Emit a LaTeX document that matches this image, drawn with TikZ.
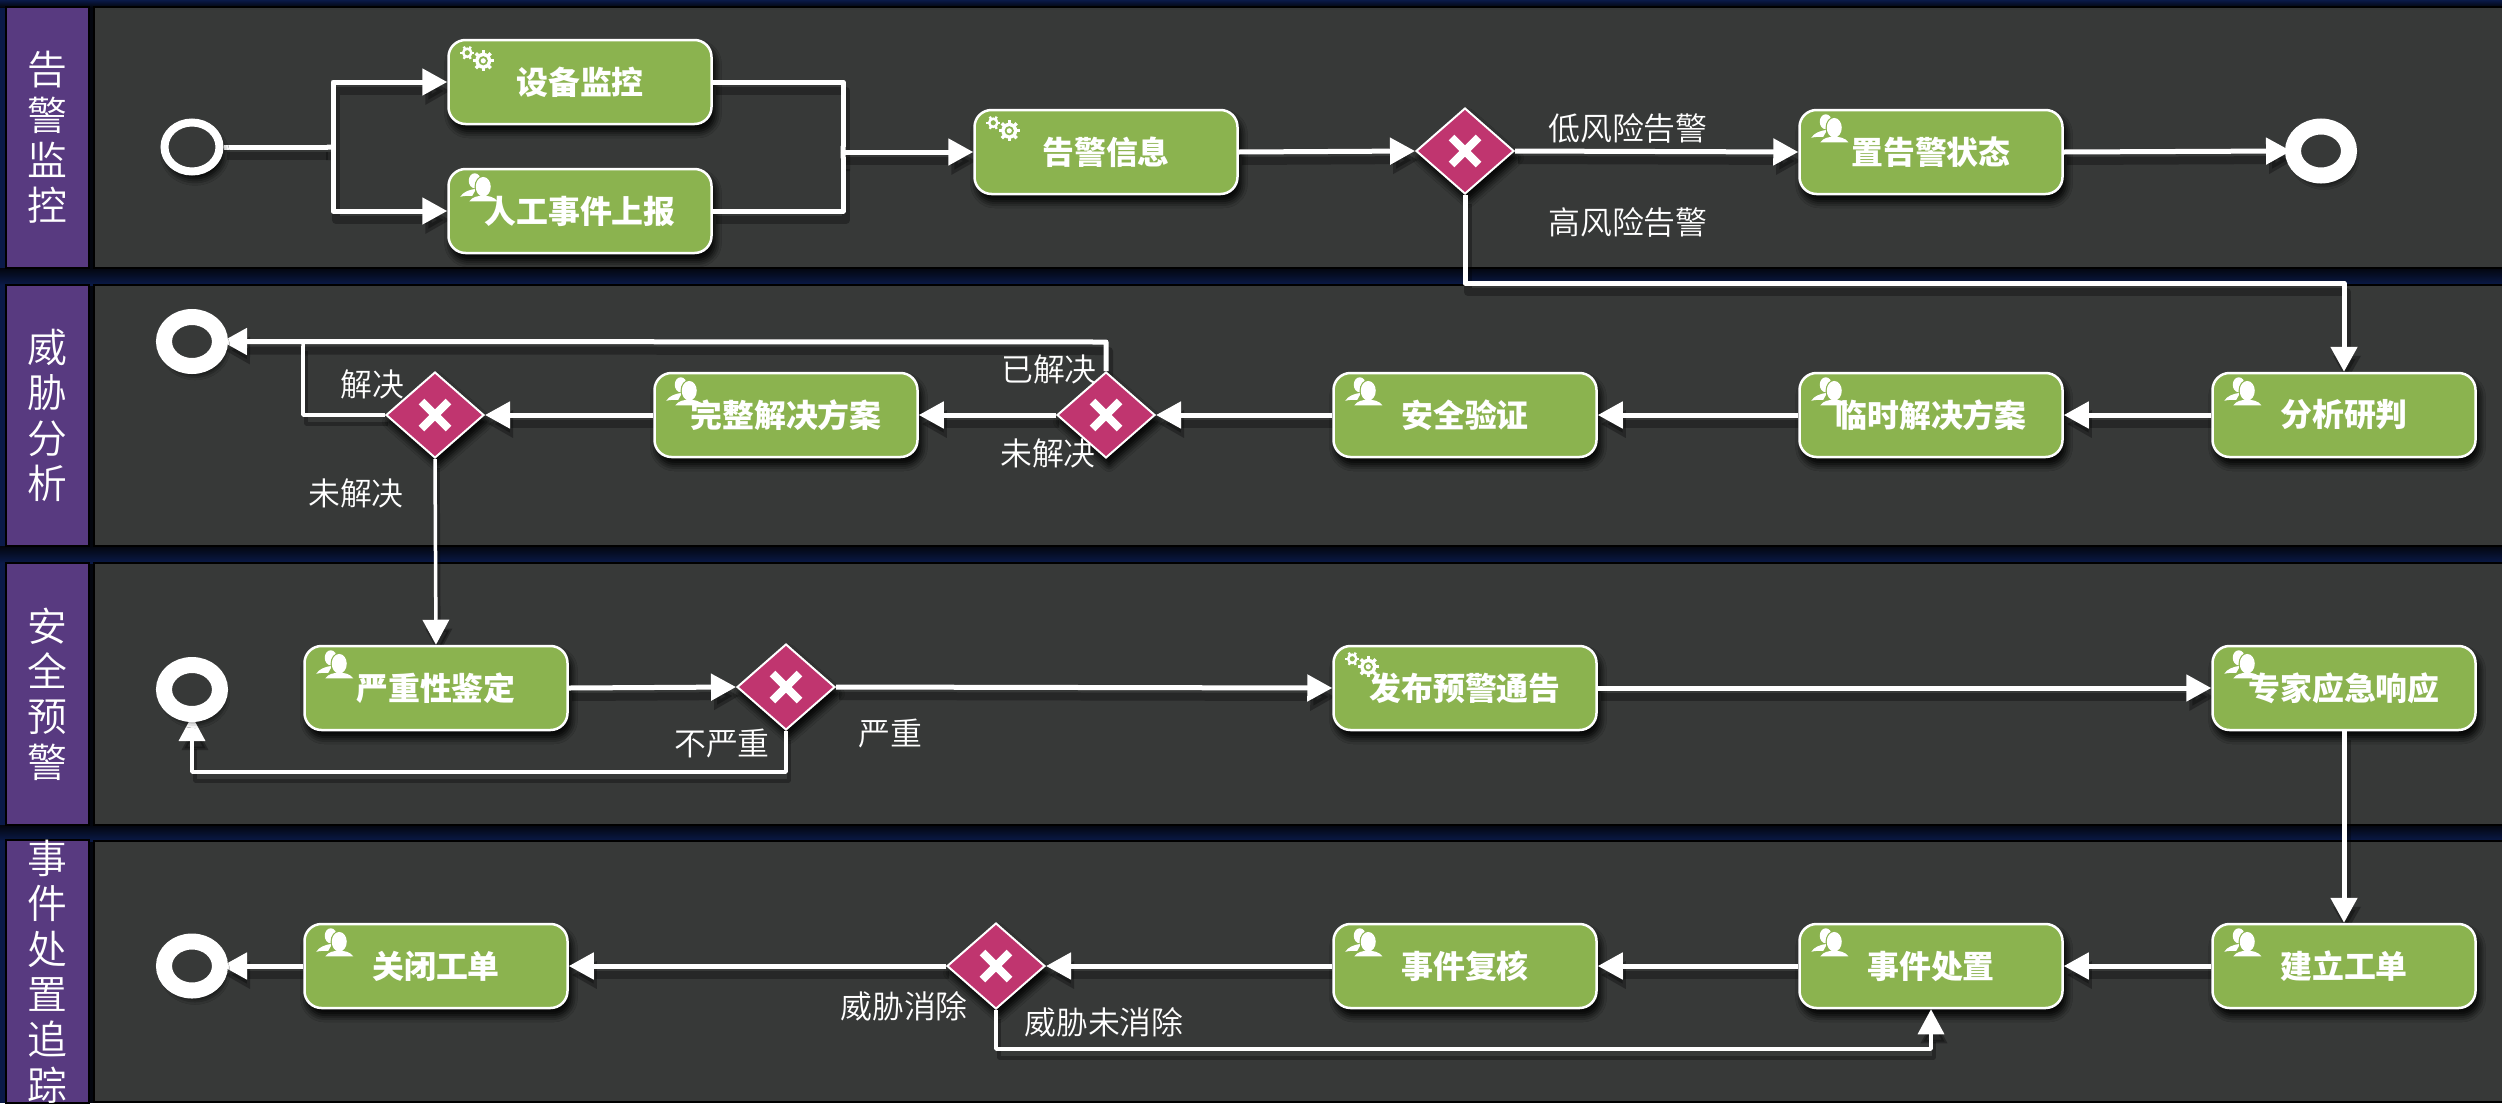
\documentclass[tikz,border=0pt]{standalone}
\usepackage{fontspec}
\setmainfont{Noto Sans CJK SC}
\newfontfamily\cjklight{Noto Sans CJK SC DemiLight}
\usetikzlibrary{arrows.meta,shapes.geometric,shadows.blur,calc}
\definecolor{bodygray}{HTML}{373938}
\definecolor{headpurple}{HTML}{583A80}
\definecolor{taskgreen}{HTML}{8BB34F}
\definecolor{gatepink}{HTML}{C0356F}
\definecolor{navya}{HTML}{03060F}
\definecolor{navyb}{HTML}{0A1A48}
\tikzset{
  lanebody/.style={rectangle,fill=bodygray,draw=black,line width=2.5bp,inner sep=0,outer sep=0},
  lanehead/.style={rectangle,fill=headpurple,draw=black,line width=2.5bp,inner sep=0,outer sep=0,text=white,align=center,
     font=\cjklight\fontsize{40}{45.5}\selectfont},
  softshadow/.style={blur shadow={shadow xshift=3bp,shadow yshift=-7bp,shadow blur radius=7bp,shadow opacity=70}},
  task/.style={rectangle,rounded corners=17bp,fill=taskgreen,draw=white,line width=2.5bp,minimum width=263bp,minimum height=84bp,
     inner sep=0,text=white,font=\bfseries\fontsize{32}{36}\selectfont,softshadow},
  gate/.style={diamond,shape aspect=1.14,fill=gatepink,draw=white,line width=2bp,minimum width=98bp,minimum height=86bp,inner sep=0,softshadow},
  startev/.style={ellipse,draw=white,fill=bodygray,line width=8bp,minimum width=55bp,minimum height=49bp,inner sep=0,softshadow},
  endev/.style={ellipse,draw=white,fill=bodygray,line width=16bp,minimum width=56bp,minimum height=49bp,inner sep=0,softshadow},
  lbl/.style={text=white,inner sep=0,font=\cjklight\fontsize{32}{36}\selectfont},
  conn/.style={draw=white,line width=5bp,line join=round,-{Triangle[length=25bp,width=26bp]}},
  connshade/.style={draw=black,opacity=.3,line width=8bp,line join=round,-{Triangle[length=25bp,width=26bp]},transform canvas={shift={(3bp,-9bp)}}},
  nohead/.style={-{Butt Cap[]}},
  thinl/.style={line width=3.5bp},
  toev/.style={shorten >=-6bp},
  xmark/.pic={\draw[white,line width=8bp] (-13.5,-13.5)--(13.5,13.5) (-13.5,13.5)--(13.5,-13.5);},
  usericon/.pic={
    \fill[white] (27.5,13) ellipse [x radius=6,y radius=7.5];
    \fill[white] (13,29) .. controls (16,24) and (22,22) .. (29,21) -- (25,28) .. controls (21,28) and (17,28) .. (13,29) -- cycle;
    \fill[taskgreen] (36,19) ellipse [x radius=8.7,y radius=11];
    \fill[white] (36,19) ellipse [x radius=7.5,y radius=9.8];
    \fill[white] (22,33.5) .. controls (25,29) and (31,28) .. (36,28) .. controls (41,28) and (47,29) .. (50,33.5) -- cycle;
  },
  gearicon/.pic={
    \foreach \a in {0,45,...,315}{\draw[white,line width=3.4bp] ($(36,22)+(\a:6)$) -- ($(36,22)+(\a:10.5)$);}
    \fill[white] (36,22) circle [radius=8];
    \fill[taskgreen] (36,22) circle [radius=4.6];
    \fill[white] (36,22) circle [radius=2.6];
    \foreach \a in {0,60,...,300}{\draw[white,line width=2.4bp] ($(20,14)+(\a:4)$) -- ($(20,14)+(\a:7)$);}
    \fill[white] (20,14) circle [radius=5.4];
    \fill[taskgreen] (20,14) circle [radius=2.6];
  },
}
% every node of the diagram, set twice: first in a pass that only fixes the names, then visibly
\newcommand{\eventnodes}[1]{%
  \node[startev,#1] (s1) at (192,147) {};
  \node[endev,#1] (e1) at (2321,151) {};
  \node[endev,#1] (e2) at (192,341.5) {};
  \node[endev,#1] (e3) at (192,689.5) {};
  \node[endev,#1] (e4) at (192,966) {};
}
\newcommand{\flownodes}[1]{%
  \node[task,#1] (t1) at (580,82) {设备监控};
  \node[task,#1] (t2) at (580,211) {人工事件上报};
  \node[task,#1] (t3) at (1106,152) {告警信息};
  \node[gate,#1] (g1) at (1465,151) {};
  \node[task,#1] (t4) at (1931,152) {置告警状态};
  \node[task,#1] (t5) at (2344,415) {分析研判};
  \node[task,#1] (t6) at (1931,415) {临时解决方案};
  \node[task,#1] (t7) at (1465,415) {安全验证};
  \node[gate,#1] (g2) at (1106,415) {};
  \node[task,#1] (t8) at (786,415) {完整解决方案};
  \node[gate,#1] (g3) at (435,415) {};
  \node[task,#1] (t9) at (436,688) {严重性鉴定};
  \node[gate,#1] (g4) at (786,687) {};
  \node[task,#1] (t10) at (1465,688) {发布预警通告};
  \node[task,#1] (t11) at (2344,688) {专家应急响应};
  \node[task,#1] (t12) at (2344,966) {建立工单};
  \node[task,#1] (t13) at (1931,966) {事件处置};
  \node[task,#1] (t14) at (1465,966) {事件复核};
  \node[gate,#1] (g5) at (996,966) {};
  \node[task,#1] (t15) at (436,966) {关闭工单};
}
\newcommand{\allconn}[1]{%
  \draw[conn,#1,nohead] (s1.east) -- (fork);
  \draw[conn,#1] (fork) |- (t1.west);
  \draw[conn,#1] (fork) |- (t2.west);
  \draw[conn,#1,nohead] (t1.east) -| (merge);
  \draw[conn,#1,nohead] (t2.east) -| (merge);
  \draw[conn,#1] (merge) -- (t3.west);
  \draw[conn,#1] (t3.east) -- (g1.west);
  \draw[conn,#1] (g1.east) -- (t4.west);
  \draw[conn,#1,toev] (t4.east) -- (e1.west);
  \draw[conn,#1] (g1.south) -- (hi) -| (t5.north);
  \draw[conn,#1] (t5.west) -- (t6.east);
  \draw[conn,#1] (t6.west) -- (t7.east);
  \draw[conn,#1] (t7.west) -- (g2.east);
  \draw[conn,#1] (g2.west) -- (t8.east);
  \draw[conn,#1] (t8.west) -- (g3.east);
  \draw[conn,#1,toev] (g2.north) -- (res) -- (e2.east);
  \draw[conn,#1,nohead,thinl] (g3.west) -| (backup);
  \draw[conn,#1,thinl] (g3.south) -- (t9.north);
  \draw[conn,#1] (t9.east) -- (g4.west);
  \draw[conn,#1] (g4.east) -- (t10.west);
  \draw[conn,#1] (t10.east) -- (t11.west);
  \draw[conn,#1,thinl,toev] (g4.south) -- (nsev) -- (nsevb) -- (e3.south);
  \draw[conn,#1] (t11.south) -- (t12.north);
  \draw[conn,#1] (t12.west) -- (t13.east);
  \draw[conn,#1] (t13.west) -- (t14.east);
  \draw[conn,#1] (t14.west) -- (g5.east);
  \draw[conn,#1] (g5.west) -- (t15.east);
  \draw[conn,#1,toev] (t15.west) -- (e4.east);
  \draw[conn,#1,thinl] (g5.south) -- (nel) -| (t13.south);
}
\begin{document}
\begin{tikzpicture}[x=1bp,y=-1bp]
\useasboundingbox (0,0) rectangle (2502,1103);
% background
\fill[navyb] (0,0) rectangle (2502,1103);
\fill[navya] (89,0) rectangle (94,1103);
\shade[top color=navyb,bottom color=navya] (0,0) rectangle (2502,7);
\foreach \ya/\yb in {268/285,546/563,825/841}{
  \shade[top color=navya,bottom color=navyb] (0,\ya) rectangle (2502,\yb);}
\node[lanehead,minimum width=83bp,minimum height=261bp] (h1) at (47.5,137.5) {告\\警\\监\\控};
\node[lanehead,minimum width=83bp,minimum height=261bp] (h2) at (47.5,415.5) {威\\胁\\分\\析};
\node[lanehead,minimum width=83bp,minimum height=262bp] (h3) at (47.5,694) {安\\全\\预\\警};
\node[lanehead,minimum width=83bp,minimum height=261bp] (h4) at (47.5,971.5) {事\\件\\处\\置\\追\\踪};
\node[lanebody,minimum width=2420bp,minimum height=261bp] (b1) at (1304,137.5) {};
\node[lanebody,minimum width=2420bp,minimum height=261bp] (b2) at (1304,415.5) {};
\node[lanebody,minimum width=2420bp,minimum height=262bp] (b3) at (1304,694) {};
\node[lanebody,minimum width=2420bp,minimum height=261bp] (b4) at (1304,971.5) {};

% names only
\eventnodes{draw=none,fill=none,/tikz/blur shadow/.code={}}
\flownodes{draw=none,fill=none,text opacity=0,/tikz/blur shadow/.code={}}

\coordinate (fork) at (333,147);
\coordinate (merge) at (843,152);
\coordinate (hi) at (1465,283);
\coordinate (res) at (1106,342);
\coordinate (backup) at (303,342);
\coordinate (nsev) at (786,772);
\coordinate (nsevb) at (192,772);
\coordinate (nel) at (996,1049);

% shadows of the connectors, under the nodes
\allconn{connshade}
\flownodes{}
\foreach \n in {t1,t3,t10}{\pic at (\n.north west) {gearicon};}
\foreach \n in {t2,t4,t5,t6,t7,t8,t9,t11,t12,t13,t14,t15}{\pic at (\n.north west) {usericon};}
\foreach \n in {g1,g2,g3,g4,g5}{\pic at (\n.center) {xmark};}
\allconn{}
\eventnodes{}

% labels
\node[lbl] (l1) at (1628,128) {低风险告警};
\node[lbl] (l2) at (1628,222) {高风险告警};
\node[lbl] (l3) at (1049,369) {已解决};
\node[lbl] (l4) at (1048,453) {未解决};
\node[lbl] (l5) at (372,384) {解决};
\node[lbl] (l6) at (356,493) {未解决};
\node[lbl] (l7) at (722,743) {不严重};
\node[lbl] (l8) at (890,733) {严重};
\node[lbl] (l9) at (904,1006) {威胁消除};
\node[lbl] (l10) at (1104,1022) {威胁未消除};
\end{tikzpicture}
\end{document}
